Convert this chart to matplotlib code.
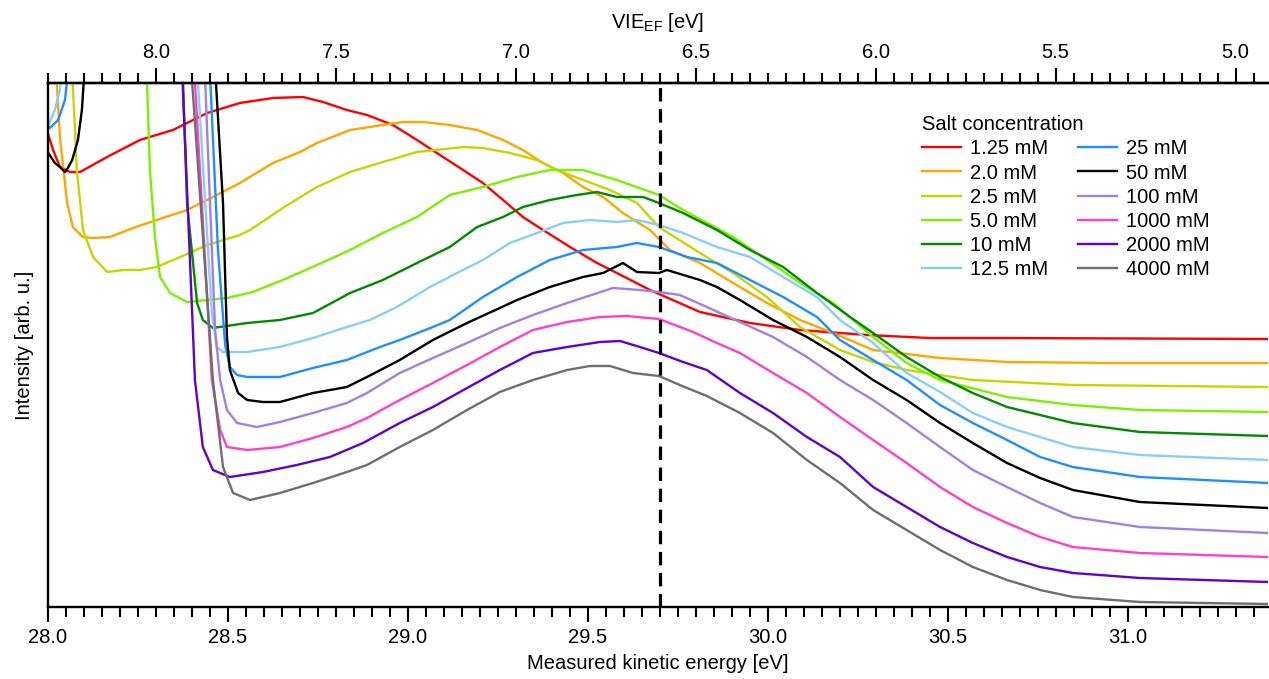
import numpy as np
import matplotlib
matplotlib.use("Agg")
import matplotlib.pyplot as plt
from matplotlib.ticker import MultipleLocator, FixedLocator, FormatStrFormatter, NullLocator

plt.rcParams['font.family'] = ['Liberation Sans', 'DejaVu Sans']
plt.rcParams['font.size'] = 14.5

nan = np.nan

# kinetic energy (eV) / intensity (arb. u.)
ke_1p25 = [28.000, 28.015, 28.034, 28.062, 28.090, 28.165, 28.256, 28.348, 28.443, 28.534,
           28.626, 28.709, 28.765, 28.831, 28.887, 28.959, 29.026, 29.081, 29.154, 29.209,
           29.265, 29.320, 29.376, 29.451, 29.526, 29.581, 29.673, 29.812, 29.951, 30.090,
           30.276, 30.451, 30.665, 31.390]
i_1p25 = [4.74, 4.57, 4.40, 4.35, 4.35, 4.50, 4.67, 4.77, 4.94, 5.04,
          5.09, 5.10, 5.05, 4.97, 4.92, 4.82, 4.67, 4.54, 4.37, 4.24,
          4.07, 3.90, 3.77, 3.60, 3.44, 3.34, 3.17, 2.95, 2.84, 2.77,
          2.72, 2.69, 2.69, 2.68]

ke_2p0 = [28.020, 28.034, 28.054, 28.070, 28.098, 28.126, 28.173, 28.237, 28.303, 28.387,
          28.459, 28.534, 28.626, 28.701, 28.748, 28.840, 28.931, 28.987, 29.043, 29.117,
          29.193, 29.265, 29.320, 29.376, 29.432, 29.487, 29.543, 29.598, 29.673, 29.729,
          29.812, 29.904, 29.998, 30.090, 30.182, 30.293, 30.479, 30.665, 30.942, 31.390]
i_2p0 = [5.57, 4.70, 4.04, 3.80, 3.70, 3.69, 3.70, 3.79, 3.87, 3.97,
         4.10, 4.24, 4.44, 4.55, 4.64, 4.77, 4.82, 4.85, 4.85, 4.82,
         4.77, 4.67, 4.57, 4.44, 4.34, 4.20, 4.10, 3.94, 3.77, 3.57,
         3.44, 3.24, 3.04, 2.87, 2.74, 2.57, 2.49, 2.45, 2.44, 2.44]

ke_2p5 = [28.065, 28.081, 28.098, 28.126, 28.165, 28.209, 28.256, 28.303, 28.368, 28.443,
          28.534, 28.562, 28.653, 28.748, 28.840, 28.931, 29.026, 29.154, 29.209, 29.284,
          29.359, 29.415, 29.487, 29.562, 29.637, 29.698, 29.812, 29.904, 29.998, 30.090,
          30.201, 30.293, 30.386, 30.570, 30.848, 31.390]
i_2p5 = [5.57, 4.37, 3.77, 3.50, 3.35, 3.37, 3.37, 3.40, 3.50, 3.62,
         3.72, 3.77, 3.99, 4.20, 4.35, 4.45, 4.55, 4.60, 4.59, 4.54,
         4.47, 4.37, 4.27, 4.17, 4.04, 3.80, 3.54, 3.34, 3.10, 2.80,
         2.57, 2.45, 2.37, 2.27, 2.22, 2.20]

ke_5p0 = [28.273, 28.284, 28.298, 28.312, 28.340, 28.387, 28.443, 28.498, 28.570, 28.653,
          28.748, 28.840, 28.931, 29.026, 29.117, 29.209, 29.304, 29.395, 29.487, 29.581,
          29.698, 29.765, 29.904, 29.998, 30.090, 30.182, 30.293, 30.386, 30.479, 30.665,
          30.848, 31.034, 31.390]
i_5p0 = [5.57, 4.37, 3.70, 3.30, 3.14, 3.05, 3.07, 3.09, 3.15, 3.27,
         3.42, 3.57, 3.74, 3.90, 4.12, 4.20, 4.30, 4.37, 4.37, 4.27,
         4.12, 3.97, 3.70, 3.47, 3.24, 3.04, 2.70, 2.44, 2.27, 2.10,
         2.02, 1.97, 1.95]

ke_10 = [28.373, 28.387, 28.415, 28.431, 28.459, 28.554, 28.645, 28.737, 28.840, 28.931,
         29.026, 29.117, 29.193, 29.265, 29.320, 29.395, 29.470, 29.526, 29.581, 29.654,
         29.698, 29.765, 29.859, 29.951, 30.043, 30.137, 30.229, 30.293, 30.386, 30.479,
         30.570, 30.665, 30.848, 31.034, 31.390]
i_10 = [5.57, 4.04, 3.04, 2.87, 2.79, 2.84, 2.87, 2.94, 3.14, 3.27,
        3.44, 3.60, 3.80, 3.90, 4.00, 4.07, 4.12, 4.15, 4.10, 4.10,
        4.04, 3.94, 3.77, 3.57, 3.40, 3.14, 2.90, 2.74, 2.50, 2.30,
        2.14, 2.00, 1.84, 1.75, 1.71]

ke_12p5 = [28.000, 28.020, 28.034, 28.043, nan,
           28.412, 28.456, 28.470, 28.487, 28.554, 28.645, 28.737, 28.831, 28.895, 28.970,
           29.062, 29.137, 29.209, 29.284, 29.359, 29.432, 29.506, 29.581, 29.637, 29.698,
           29.765, 29.859, 29.951, 30.043, 30.137, 30.201, 30.293, 30.386, 30.479, 30.570,
           30.665, 30.848, 31.034, 31.390]
i_12p5 = [4.80, 4.97, 5.17, 5.47, nan,
          5.57, 2.94, 2.60, 2.55, 2.55, 2.60, 2.69, 2.80, 2.87, 3.00,
          3.20, 3.34, 3.47, 3.64, 3.74, 3.84, 3.87, 3.85, 3.87, 3.82,
          3.74, 3.60, 3.50, 3.30, 3.10, 2.87, 2.64, 2.34, 2.15, 1.94,
          1.80, 1.60, 1.52, 1.47]

ke_25 = [28.000, 28.006, 28.029, 28.048, 28.060, nan,
         28.448, 28.473, 28.493, 28.506, 28.526, 28.554, 28.645, 28.737, 28.831, 28.923,
         28.978, 29.070, 29.117, 29.209, 29.304, 29.395, 29.487, 29.581, 29.637, 29.698,
         29.776, 29.859, 29.951, 30.043, 30.137, 30.201, 30.293, 30.386, 30.479, 30.570,
         30.665, 30.757, 30.848, 31.034, 31.390]
i_25 = [4.81, 4.79, 4.87, 5.07, 5.47, nan,
        5.57, 3.57, 2.62, 2.40, 2.32, 2.30, 2.30, 2.39, 2.47, 2.60,
        2.67, 2.80, 2.87, 3.10, 3.30, 3.47, 3.57, 3.60, 3.64, 3.60,
        3.50, 3.44, 3.27, 3.10, 2.90, 2.67, 2.47, 2.27, 2.02, 1.84,
        1.67, 1.50, 1.40, 1.30, 1.24]

ke_50 = [28.000, 28.020, 28.034, 28.048, 28.056, 28.068, 28.084, 28.095, 28.104, nan,
         28.462, 28.487, 28.498, 28.506, 28.529, 28.554, 28.598, 28.645, 28.737, 28.831,
         28.887, 28.978, 29.070, 29.165, 29.256, 29.304, 29.395, 29.487, 29.543, 29.598,
         29.637, 29.698, 29.720, 29.812, 29.859, 29.923, 30.015, 30.109, 30.201, 30.293,
         30.386, 30.479, 30.570, 30.665, 30.757, 30.848, 31.034, 31.390]
i_50 = [4.55, 4.44, 4.40, 4.35, 4.39, 4.47, 4.67, 4.97, 5.47, nan,
        5.57, 4.04, 2.70, 2.37, 2.14, 2.07, 2.05, 2.05, 2.14, 2.20,
        2.30, 2.47, 2.67, 2.84, 2.99, 3.07, 3.20, 3.30, 3.34, 3.44,
        3.35, 3.34, 3.37, 3.27, 3.20, 3.07, 2.87, 2.70, 2.50, 2.27,
        2.07, 1.84, 1.64, 1.44, 1.29, 1.17, 1.05, 0.99]

ke_100 = [28.434, 28.465, 28.479, 28.498, 28.526, 28.581, 28.645, 28.737, 28.831, 28.887,
          28.978, 29.070, 29.165, 29.256, 29.348, 29.443, 29.570, 29.645, 29.698, 29.756,
          29.831, 29.923, 30.015, 30.109, 30.201, 30.293, 30.386, 30.479, 30.570, 30.665,
          30.757, 30.848, 31.034, 31.390]
i_100 = [5.57, 2.77, 2.27, 1.97, 1.84, 1.80, 1.85, 1.94, 2.04, 2.14,
         2.34, 2.49, 2.64, 2.79, 2.92, 3.04, 3.19, 3.17, 3.15, 3.12,
         3.00, 2.85, 2.70, 2.50, 2.27, 2.07, 1.84, 1.60, 1.37, 1.20,
         1.04, 0.90, 0.80, 0.74]

ke_1000 = [28.404, 28.456, 28.479, 28.498, 28.554, 28.645, 28.737, 28.831, 28.887, 28.978,
           29.070, 29.165, 29.256, 29.348, 29.443, 29.534, 29.609, 29.698, 29.793, 29.859,
           29.923, 30.015, 30.109, 30.201, 30.293, 30.386, 30.479, 30.570, 30.665, 30.757,
           30.848, 31.034, 31.390]
i_1000 = [5.57, 2.27, 1.77, 1.60, 1.57, 1.60, 1.69, 1.80, 1.89, 2.07,
          2.24, 2.42, 2.60, 2.77, 2.85, 2.90, 2.91, 2.88, 2.75, 2.64,
          2.54, 2.34, 2.14, 1.90, 1.67, 1.44, 1.20, 1.00, 0.84, 0.70,
          0.60, 0.54, 0.50]

ke_2000 = [28.371, 28.409, 28.431, 28.459, 28.506, 28.598, 28.692, 28.784, 28.876, 28.978,
           29.070, 29.165, 29.256, 29.348, 29.443, 29.534, 29.590, 29.645, 29.698, 29.765,
           29.831, 29.923, 30.015, 30.109, 30.201, 30.293, 30.386, 30.479, 30.570, 30.665,
           30.757, 30.848, 31.034, 31.390]
i_2000 = [5.57, 2.27, 1.60, 1.37, 1.30, 1.35, 1.42, 1.50, 1.64, 1.84,
          2.00, 2.19, 2.37, 2.54, 2.60, 2.65, 2.66, 2.60, 2.54, 2.45,
          2.37, 2.14, 1.94, 1.70, 1.50, 1.20, 1.00, 0.80, 0.64, 0.50,
          0.40, 0.34, 0.29, 0.25]

ke_4000 = [28.395, 28.459, 28.487, 28.515, 28.562, 28.645, 28.737, 28.831, 28.887, 28.978,
           29.070, 29.165, 29.256, 29.348, 29.443, 29.506, 29.562, 29.626, 29.698, 29.756,
           29.831, 29.923, 30.015, 30.109, 30.201, 30.293, 30.386, 30.479, 30.570, 30.665,
           30.757, 30.848, 31.034, 31.390]
i_4000 = [5.57, 2.27, 1.40, 1.14, 1.07, 1.14, 1.24, 1.35, 1.42, 1.60,
          1.77, 1.97, 2.15, 2.27, 2.37, 2.41, 2.41, 2.34, 2.31, 2.22,
          2.11, 1.94, 1.74, 1.47, 1.24, 0.97, 0.77, 0.57, 0.40, 0.27,
          0.17, 0.10, 0.05, 0.03]

labels = ['1.25 mM', '2.0 mM', '2.5 mM', '5.0 mM', '10 mM', '12.5 mM',
          '25 mM', '50 mM', '100 mM', '1000 mM', '2000 mM', '4000 mM']
colors = ['#ff0000', '#ffa500', '#c8d400', '#7cf000', '#008a00', '#87cefa',
          '#1e8fff', '#000000', '#a57fe0', '#ff40c8', '#6200cc', '#6e6e6e']
series_ke = [ke_1p25, ke_2p0, ke_2p5, ke_5p0, ke_10, ke_12p5,
             ke_25, ke_50, ke_100, ke_1000, ke_2000, ke_4000]
series_i = [i_1p25, i_2p0, i_2p5, i_5p0, i_10, i_12p5,
            i_25, i_50, i_100, i_1000, i_2000, i_4000]

vie_ticks = [8.0, 7.5, 7.0, 6.5, 6.0, 5.5, 5.0]
hv = 36.3          # VIE_EF = hv - KE
ke_marker = 29.70  # dashed line

fig = plt.figure(figsize=(12.69, 6.79), dpi=100)
ax = fig.add_axes([47.7 / 1269, 72 / 679, (1268 - 47.7) / 1269, 524 / 679])

for x, y, c, lab in zip(series_ke, series_i, colors, labels):
    ax.plot(x, y, color=c, lw=1.7, label=lab)

ax.axvline(ke_marker, color='black', lw=2.3, ls=(0, (4.2, 2.4)))

ax.set_xlim(28.0, 31.39)
ax.set_ylim(0, 5.24)

for s in ['left', 'top', 'bottom']:
    ax.spines[s].set_linewidth(1.7)
ax.spines['right'].set_visible(False)

ax.yaxis.set_major_locator(NullLocator())
ax.xaxis.set_major_locator(MultipleLocator(0.5))
ax.xaxis.set_minor_locator(MultipleLocator(0.05))
ax.xaxis.set_major_formatter(FormatStrFormatter('%.1f'))
ax.tick_params(axis='x', which='major', direction='out', length=11, width=1.5, pad=4, labelsize=14.5)
ax.tick_params(axis='x', which='minor', direction='out', length=7, width=1.5)
ax.set_xlabel('Measured kinetic energy [eV]', fontsize=14.5, labelpad=5)
ax.set_ylabel('Intensity [arb. u.]', fontsize=14.5, labelpad=10)

top = ax.secondary_xaxis('top', functions=(lambda k: hv - k, lambda v: hv - v))
top.xaxis.set_major_locator(FixedLocator(vie_ticks))
top.xaxis.set_minor_locator(FixedLocator(np.arange(4.95, 8.31, 0.05)))
top.xaxis.set_major_formatter(FormatStrFormatter('%.1f'))
top.tick_params(axis='x', which='major', direction='out', length=11, width=1.5, pad=4, labelsize=14.5)
top.tick_params(axis='x', which='minor', direction='out', length=7, width=1.5)
top.spines['top'].set_linewidth(1.7)
top.set_xlabel(r'VIE$_\mathregular{EF}$ [eV]', fontsize=14.5, labelpad=11)

leg = ax.legend(ncol=2, frameon=False, title='Salt concentration', fontsize=14.5,
                title_fontsize=14.5, loc='upper left', alignment='left',
                bbox_to_anchor=(912 / 1269, 1 - 105 / 679), bbox_transform=fig.transFigure,
                handlelength=1.95, handletextpad=0.45, columnspacing=1.45,
                labelspacing=0.26, borderpad=0)

fig.savefig('out.png', dpi=100)
